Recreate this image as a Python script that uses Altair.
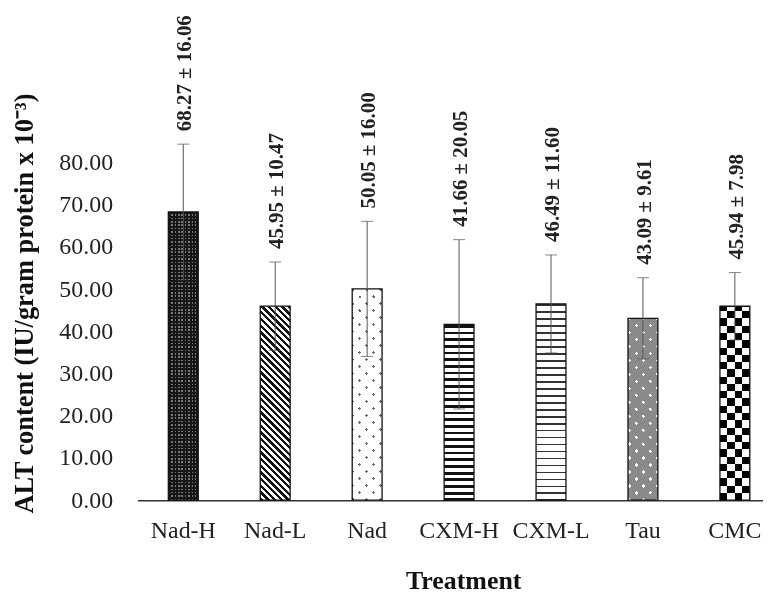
import math
import altair as alt
import pandas as pd

treatments = ["Nad-H", "Nad-L", "Nad", "CXM-H", "CXM-L", "Tau", "CMC"]
means = [68.27, 45.95, 50.05, 41.66, 46.49, 43.09, 45.94]
sds = [16.06, 10.47, 16.00, 20.05, 11.60, 9.61, 7.98]
y_ticks = [0, 10, 20, 30, 40, 50, 60, 70, 80]

df = pd.DataFrame({
    "treatment": treatments,
    "mean": means,
    "sd": sds,
})
df["lo"] = df["mean"] - df["sd"]
df["hi"] = df["mean"] + df["sd"]
df["label"] = [f"{m:.2f} \u00b1 {s:.2f}" for m, s in zip(means, sds)]

# ---- layout / style ----
W, H = 628, 493
Y_MAX = 116.3
K = H / Y_MAX           # px per unit
BAR_W = 30
FONT = "Liberation Serif"


def stripe_stops(total, period, frac, c_on, c_off, phase=0.0):
    stops = []
    x = -phase
    segs = []
    while x < total:
        segs.append((x, x + frac * period, c_on))
        segs.append((x + frac * period, x + period, c_off))
        x += period
    for s, e, c in segs:
        s2, e2 = max(s, 0.0), min(e, total)
        if e2 <= s2:
            continue
        stops.append({"offset": round(s2 / total, 5), "color": c})
        stops.append({"offset": round(e2 / total, 5), "color": c})
    return stops


def hgrad(h, period, frac, on, off, phase=0.0):
    return {"gradient": "linear", "x1": 0, "y1": 1, "x2": 0, "y2": 0,
            "stops": stripe_stops(h, period, frac, on, off, phase)}


def vgrad(w, period, frac, on, off, phase=0.0):
    return {"gradient": "linear", "x1": 0, "y1": 0, "x2": 1, "y2": 0,
            "stops": stripe_stops(w, period, frac, on, off, phase)}


def dgrad(w, h, period, frac, on, off, kind, phase=0.0):
    r = h / w
    a = (1 + r) / (1 + r * r)
    L = (w + h) / math.sqrt(2)
    if kind == "back":   # "\" lines
        g = {"x1": 0, "y1": 1, "x2": round(a, 6), "y2": round(1 - a * r, 6)}
    else:                # "/" lines
        g = {"x1": 0, "y1": 0, "x2": round(a, 6), "y2": round(a * r, 6)}
    g.update({"gradient": "linear",
              "stops": stripe_stops(L, period, frac, on, off, phase)})
    return g


x_enc = alt.X(
    "treatment:N",
    sort=treatments,
    scale=alt.Scale(domain=treatments, paddingInner=0.5, paddingOuter=0.152, align=0.816),
    axis=alt.Axis(title="Treatment", labelAngle=0, ticks=False, domain=True,
                  domainColor="#333333", domainWidth=1.5, labelPadding=18,
                  labelFontSize=24, labelColor="#222222", labelFont=FONT,
                  titleFont=FONT, titleFontSize=26, titleFontWeight="bold",
                  titleColor="#111111", titleX=327, titleY=89,
                  titleAlign="center", titleBaseline="alphabetic"),
)

y_scale = alt.Scale(domain=[0, Y_MAX], nice=False, zero=True)
y_axis = alt.Axis(title="ALT content (IU/gram protein x 10\u207b\u00b3)",
                  values=y_ticks, format=".2f", grid=False, ticks=False,
                  domain=False, labelPadding=25, labelFontSize=24,
                  labelColor="#222222", labelFont=FONT, titleFont=FONT,
                  titleFontSize=26.5, titleFontWeight="bold",
                  titleColor="#111111", titleY=295, titlePadding=20)

base = alt.Chart(df)


def bar_layer(name, fill, blend=None):
    kw = {"size": BAR_W, "fill": fill, "strokeWidth": 0}
    if blend:
        kw["blend"] = blend
    return base.transform_filter(alt.datum.treatment == name).mark_bar(**kw).encode(
        x=x_enc, y=alt.Y("mean:Q", scale=y_scale, axis=y_axis))


hpx = {t: m * K for t, m in zip(treatments, means)}
layers = []
# Nad-H: dark with fine light dots
layers.append(bar_layer("Nad-H", vgrad(BAR_W, 3.4, 0.45, "#767676", "#161616", 0.5)))
layers.append(bar_layer("Nad-H", hgrad(hpx["Nad-H"], 3.4, 0.45, "#767676", "#161616"), "darken"))
# Nad-L: diagonal stripes
layers.append(bar_layer("Nad-L", dgrad(BAR_W, hpx["Nad-L"], 4.74, 0.5, "#111111", "#ffffff", "back")))
# Nad: white with sparse staggered dots
layers.append(bar_layer("Nad", dgrad(BAR_W, hpx["Nad"], 9.9, 0.22, "#6a6a6a", "#ffffff", "back")))
layers.append(bar_layer("Nad", dgrad(BAR_W, hpx["Nad"], 9.9, 0.22, "#6a6a6a", "#ffffff", "fwd"), "lighten"))
# CXM-H: thick horizontal stripes
layers.append(bar_layer("CXM-H", hgrad(hpx["CXM-H"], 6.7, 0.42, "#111111", "#ffffff", 1.0)))
# CXM-L: thin horizontal lines
layers.append(bar_layer("CXM-L", hgrad(hpx["CXM-L"], 7.0, 0.25, "#333333", "#ffffff", 1.0)))
# Tau: grey with white staggered dots
layers.append(bar_layer("Tau", dgrad(BAR_W, hpx["Tau"], 9.9, 0.25, "#ffffff", "#8a8a8a", "back")))
layers.append(bar_layer("Tau", dgrad(BAR_W, hpx["Tau"], 9.9, 0.25, "#ffffff", "#8a8a8a", "fwd"), "darken"))
# CMC: checkerboard
layers.append(bar_layer("CMC", hgrad(hpx["CMC"], 14.6, 0.5, "#000000", "#ffffff")))
layers.append(bar_layer("CMC", vgrad(BAR_W, 15.0, 0.5, "#000000", "#ffffff"), "difference"))

outline = base.mark_bar(size=BAR_W, fillOpacity=0, stroke="#111111", strokeWidth=1.3).encode(
    x=x_enc, y=alt.Y("mean:Q", scale=y_scale, axis=y_axis))

err_rule = base.mark_rule(color="#555555", strokeWidth=1).encode(
    x=x_enc, y=alt.Y("lo:Q", scale=y_scale, axis=y_axis), y2="hi:Q")
err_hi = base.mark_tick(color="#555555", size=12, thickness=1).encode(
    x=x_enc, y=alt.Y("hi:Q", scale=y_scale, axis=y_axis))
err_lo = base.mark_tick(color="#555555", size=12, thickness=1).encode(
    x=x_enc, y=alt.Y("lo:Q", scale=y_scale, axis=y_axis))

labels = base.mark_text(angle=270, align="left", baseline="middle", dx=13, dy=2,
                        font=FONT, fontSize=21, fontWeight="bold", color="#222222").encode(
    x=x_enc, y=alt.Y("hi:Q", scale=y_scale, axis=y_axis), text="label:N")

chart = alt.layer(*layers, outline, err_rule, err_hi, err_lo, labels).properties(
    width=W, height=H,
    padding={"left": 4, "top": 0, "right": 0, "bottom": 2},
    background="white",
).configure_view(stroke=None)

chart.save("out.html", embed_options={"renderer": "svg", "actions": False})
